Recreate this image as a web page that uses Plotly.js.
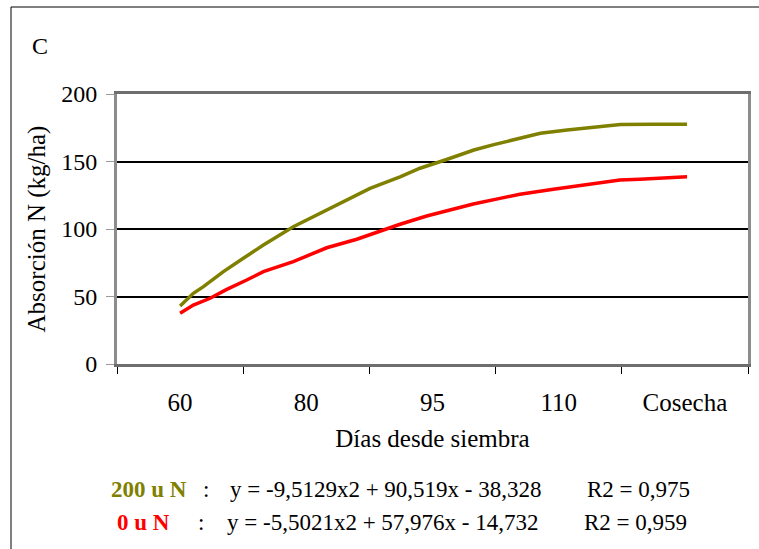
<!DOCTYPE html>
<html>
<head>
<meta charset="utf-8">
<script src="https://cdn.plot.ly/plotly-3.0.1.min.js"></script>
<style>html,body{margin:0;padding:0;background:#fff;}#chart{width:759px;height:549px;}</style>
</head>
<body>
<div id="chart"></div>
<script>
// Categories of the x axis (positions 0..4)
const categories = ['60', '80', '95', '110', 'Cosecha'];
const categoryPos = [0, 1, 2, 3, 4];

// 200 u N series (position along category axis, N uptake kg/ha)
const n200X = [0, 0.105, 0.185, 0.343, 0.501, 0.660, 0.897, 1.056, 1.214, 1.347, 1.505, 1.743, 1.901, 2.112, 2.218, 2.328, 2.486, 2.697, 2.855, 3.067, 3.225, 3.384, 3.489, 3.750, 4.017];
const n200Y = [43.0, 52.4, 57.3, 68.4, 78.3, 88.1, 101.7, 109.1, 116.5, 122.7, 130.1, 138.7, 145.0, 151.5, 155.0, 158.5, 162.5, 167.2, 170.9, 173.3, 175.0, 176.3, 177.4, 177.5, 177.6];

// 0 u N series
const n0X = [0, 0.105, 0.238, 0.370, 0.528, 0.660, 0.897, 1.056, 1.162, 1.400, 1.584, 1.743, 1.954, 2.085, 2.323, 2.535, 2.693, 2.958, 3.222, 3.485, 3.644, 3.855, 4.017];
const n0Y = [37.6, 43.7, 48.7, 55.3, 62.2, 68.4, 75.8, 82.0, 86.1, 92.4, 98.7, 103.5, 109.6, 112.8, 118.5, 122.7, 125.7, 129.4, 132.6, 136.3, 136.8, 138.0, 138.7];

const yTicks = [0, 50, 100, 150, 200];

const serif = 'Liberation Serif, Tinos, DejaVu Serif, serif';
const OLIVE = '#808000';
const RED = '#ff0000';

// layout geometry
const W = 759, H = 549;
const L = 117, R = 748, T = 94, B = 364;
const px = x => (x - L) / (R - L);
const py = y => (B - y) / (B - T);

const traces = [
  {x: n200X, y: n200Y, type: 'scatter', mode: 'lines', name: '200 u N',
   line: {color: OLIVE, width: 3.5}, showlegend: false},
  {x: n0X, y: n0Y, type: 'scatter', mode: 'lines', name: '0 u N',
   line: {color: RED, width: 3.5}, showlegend: false}
];

function ann(text, x, y, color, bold) {
  return {xref: 'paper', yref: 'paper', x: px(x), y: py(y), xanchor: 'left', yanchor: 'middle',
    text: bold ? '<b>' + text + '</b>' : text, showarrow: false,
    font: {family: serif, size: 23, color: color || '#000'}};
}

const layout = {
  width: W, height: H,
  margin: {l: L, r: W - R, t: T, b: H - B, pad: 0},
  paper_bgcolor: '#fff', plot_bgcolor: '#fff',
  font: {family: serif, size: 23, color: '#000'},
  xaxis: {
    range: [-0.5, 4.5], tickmode: 'array', tickvals: categoryPos, ticktext: categories,
    ticks: '', showgrid: false, zeroline: false,
    showline: true, linecolor: '#6e6e6e', linewidth: 3, mirror: true,
    ticklabelstandoff: 14,
    tickfont: {family: serif, size: 25, color: '#000'},
    minor: {tick0: -0.5, dtick: 1, ticks: 'outside', ticklen: 7, tickwidth: 1, tickcolor: '#000', showgrid: false},
    title: {text: 'Días desde siembra', font: {family: serif, size: 25, color: '#000'}, standoff: 15}
  },
  yaxis: {
    range: [0, 200], tickmode: 'array', tickvals: yTicks,
    ticks: 'outside', ticklen: 8, tickwidth: 1, tickcolor: '#9a9a9a',
    showgrid: true, gridcolor: '#000', gridwidth: 2, zeroline: false,
    showline: true, linecolor: '#8c8c8c', linewidth: 3, mirror: true,
    ticklabelstandoff: 4,
    tickfont: {family: serif, size: 24, color: '#000'},
    title: {text: 'Absorción N (kg/ha)', font: {family: serif, size: 25, color: '#000'}, standoff: 9}
  },
  shapes: [
    {type: 'line', xref: 'paper', yref: 'paper', x0: px(11), x1: px(759), y0: py(7), y1: py(7), line: {color: '#000', width: 1}},
    {type: 'line', xref: 'paper', yref: 'paper', x0: px(11), x1: px(11), y0: py(7), y1: py(549), line: {color: '#000', width: 1}}
  ],
  annotations: [
    {xref: 'paper', yref: 'paper', x: px(40), y: py(46), xanchor: 'center', yanchor: 'middle',
     text: 'C', showarrow: false, font: {family: serif, size: 24, color: '#000'}},
    ann('200 u N', 109, 489, OLIVE, true),
    ann(':', 201, 489),
    ann('y = -9,5129x2 + 90,519x - 38,328', 228, 489),
    ann('R2 = 0,975', 585, 489),
    ann('0 u N', 115, 522, RED, true),
    ann(':', 196, 522),
    ann('y = -5,5021x2 + 57,976x - 14,732', 225, 522),
    ann('R2 = 0,959', 582, 522)
  ]
};

Plotly.newPlot('chart', traces, layout, {displayModeBar: false, staticPlot: true});
</script>
</body>
</html>
